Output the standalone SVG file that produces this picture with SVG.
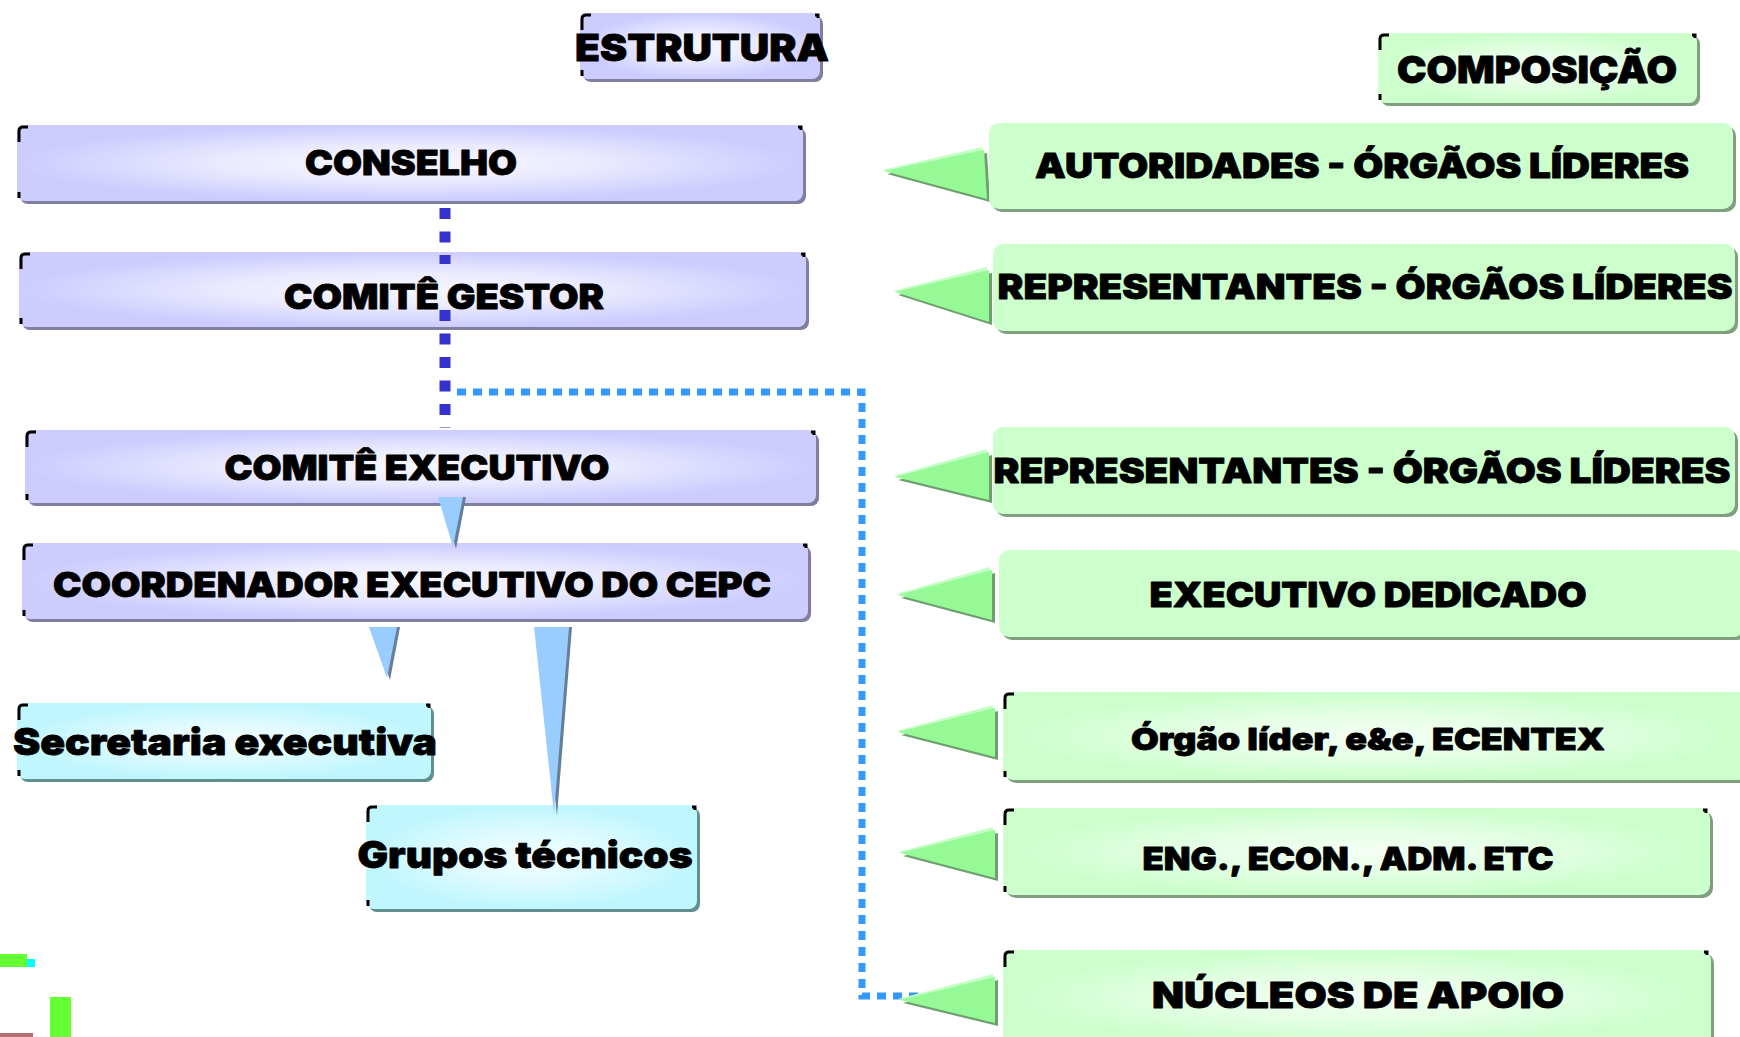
<svg xmlns="http://www.w3.org/2000/svg" width="1740" height="1037" viewBox="0 0 1740 1037">
<defs>
<radialGradient id="gLav" cx="0.5" cy="0.5" r="0.5">
<stop offset="0" stop-color="#f7f7ff"/><stop offset="0.45" stop-color="#ebebff"/><stop offset="1" stop-color="#ccccff"/>
</radialGradient>
<radialGradient id="gGrn" cx="0.5" cy="0.5" r="0.5">
<stop offset="0" stop-color="#f4fff4"/><stop offset="0.45" stop-color="#e6ffe6"/><stop offset="1" stop-color="#ccffcc"/>
</radialGradient>
<radialGradient id="gCyn" cx="0.5" cy="0.5" r="0.5">
<stop offset="0" stop-color="#f4feff"/><stop offset="0.45" stop-color="#e0fbff"/><stop offset="1" stop-color="#bff6ff"/>
</radialGradient>
<style>
.t{font-family:Inter,Lato,Roboto,"Liberation Sans",sans-serif;font-weight:900;fill:#000;stroke:#000;stroke-width:0.8;stroke-linejoin:round;text-anchor:middle}
.lav{fill:url(#gLav)}
.grn{fill:url(#gGrn)}
.flat{fill:#ccffcc}
.cyn{fill:url(#gCyn)}
.shL{fill:#7f7f9f}
.shG{fill:#7f9f7f}
.shC{fill:#5f8f8f}
.cm{fill:none;stroke:#000;stroke-width:3;stroke-linecap:butt}
.tri{fill:#95fa95}
.triH{fill:#c4ffc4}
.triS{fill:#6f9f6f}
.btri{fill:#99ccff}
.btriS{fill:#667f99}
</style>
</defs>
<rect width="1740" height="1037" fill="#fff"/>

<g id="estrutura">
<rect class="shL" x="583" y="16" width="240" height="66" rx="8"/>
<rect class="lav" x="580" y="13" width="240" height="66" rx="8"/>
<path class="cm" d="M582,30 V19 Q582,15 586,15 H591 M815,15 h3 v3 M582,70 v6"/>
<text class="t" x="702" y="61" font-size="37" textLength="254" lengthAdjust="spacingAndGlyphs">ESTRUTURA</text>
</g>

<g id="conselho">
<rect class="shL" x="20" y="128" width="786" height="76" rx="8"/>
<rect class="lav" x="17" y="125" width="786" height="76" rx="8"/>
<path class="cm" d="M19,142 V131 Q19,127 23,127 H28 M798,127 h3 v3 M19,192 v6"/>
<text class="t" x="411" y="175" font-size="34" textLength="212" lengthAdjust="spacingAndGlyphs">CONSELHO</text>
</g>

<g id="comite-gestor">
<rect class="shL" x="22" y="255" width="787" height="75" rx="8"/>
<rect class="lav" x="19" y="252" width="787" height="75" rx="8"/>
<path class="cm" d="M21,269 V258 Q21,254 25,254 H30 M801,254 h3 v3 M21,318 v6"/>
<text class="t" x="444" y="309" font-size="34" textLength="320" lengthAdjust="spacingAndGlyphs">COMITÊ GESTOR</text>
</g>

<g id="comite-executivo">
<rect class="shL" x="28" y="433" width="791" height="73" rx="8"/>
<rect class="lav" x="25" y="430" width="791" height="73" rx="8"/>
<path class="cm" d="M27,447 V436 Q27,432 31,432 H36 M811,432 h3 v3 M27,494 v6"/>
<text class="t" x="417" y="480" font-size="34" textLength="385" lengthAdjust="spacingAndGlyphs">COMITÊ EXECUTIVO</text>
</g>

<g id="coordenador">
<rect class="shL" x="25" y="546" width="786" height="76" rx="8"/>
<rect class="lav" x="22" y="543" width="786" height="76" rx="8"/>
<path class="cm" d="M24,560 V549 Q24,545 28,545 H33 M803,545 h3 v3 M24,610 v6"/>
<text class="t" x="412" y="597" font-size="34" textLength="718" lengthAdjust="spacingAndGlyphs">COORDENADOR EXECUTIVO DO CEPC</text>
</g>

<g id="secretaria">
<rect class="shC" x="20" y="706" width="414" height="76" rx="8"/>
<rect class="cyn" x="17" y="703" width="414" height="76" rx="8"/>
<path class="cm" d="M19,720 V709 Q19,705 23,705 H28 M426,705 h3 v3 M19,770 v6"/>
<text class="t" x="225" y="755" font-size="37" textLength="424" lengthAdjust="spacingAndGlyphs">Secretaria executiva</text>
</g>

<g id="grupos">
<rect class="shC" x="369" y="808" width="331" height="104" rx="8"/>
<rect class="cyn" x="366" y="805" width="331" height="104" rx="8"/>
<path class="cm" d="M368,822 V811 Q368,807 372,807 H377 M692,807 h3 v3 M368,900 v6"/>
<text class="t" x="525" y="868" font-size="37" textLength="335" lengthAdjust="spacingAndGlyphs">Grupos técnicos</text>
</g>

<g id="connectors">
<line x1="445" y1="208" x2="445" y2="264" stroke="#3333cc" stroke-width="11" stroke-dasharray="11 12.5"/>
<line x1="445" y1="310" x2="445" y2="428" stroke="#3333cc" stroke-width="11" stroke-dasharray="11 12.5"/>
<polyline points="457,392 862,392 862,996 1002,996" fill="none" stroke="#3399ff" stroke-width="7" stroke-dasharray="9 7"/>
<polygon class="btriS" points="441,497 466,497 456,549"/>
<polygon class="btri" points="438,497 463,497 453,547"/>
<polygon class="btriS" points="372,627 400,627 390,680"/>
<polygon class="btri" points="369,627 397,627 387,678"/>
<polygon class="btriS" points="537,627 572,627 557,816"/>
<polygon class="btri" points="534,627 569,627 554,814"/>
</g>

<g id="composicao">
<rect class="shG" x="1381" y="36" width="319" height="70" rx="8"/>
<rect class="grn" x="1378" y="33" width="319" height="70" rx="8"/>
<path class="cm" d="M1380,50 V39 Q1380,35 1384,35 H1389 M1692,35 h3 v3 M1380,94 v6"/>
<text class="t" x="1537" y="83" font-size="37" textLength="280" lengthAdjust="spacingAndGlyphs">COMPOSIÇÃO</text>
</g>

<g id="autoridades">
<polygon class="triS" points="887,174 987,153 990,202"/>
<polygon class="triH" points="882,170 982,147 985,197"/>
<polygon class="tri" points="884,171 984,150 987,199"/>
<rect class="shG" x="992" y="126" width="744" height="86" rx="10"/>
<rect class="flat" x="989" y="123" width="744" height="86" rx="10"/>
<text class="t" x="1362" y="178" font-size="34" textLength="654" lengthAdjust="spacingAndGlyphs">AUTORIDADES - ÓRGÃOS LÍDERES</text>
</g>

<g id="representantes-1">
<polygon class="triS" points="898,295 992,273 992,325"/>
<polygon class="triH" points="893,291 987,267 987,319"/>
<polygon class="tri" points="895,292 989,270 989,322"/>
<rect class="shG" x="996" y="247" width="742" height="87" rx="10"/>
<rect class="flat" x="993" y="244" width="742" height="87" rx="10"/>
<text class="t" x="1365" y="299" font-size="34" textLength="735" lengthAdjust="spacingAndGlyphs">REPRESENTANTES - ÓRGÃOS LÍDERES</text>
</g>

<g id="representantes-2">
<polygon class="triS" points="898,480 992,455 992,503"/>
<polygon class="triH" points="893,476 987,449 987,497"/>
<polygon class="tri" points="895,477 989,452 989,500"/>
<rect class="shG" x="996" y="430" width="742" height="87" rx="10"/>
<rect class="flat" x="993" y="427" width="742" height="87" rx="10"/>
<text class="t" x="1362" y="483" font-size="34" textLength="737" lengthAdjust="spacingAndGlyphs">REPRESENTANTES - ÓRGÃOS LÍDERES</text>
</g>

<g id="executivo-dedicado">
<polygon class="triS" points="901,598 995,573 995,623"/>
<polygon class="triH" points="896,594 990,567 990,617"/>
<polygon class="tri" points="898,595 992,570 992,620"/>
<rect class="shG" x="1002" y="553" width="745" height="87" rx="10"/>
<rect class="flat" x="999" y="550" width="745" height="87" rx="10"/>
<text class="t" x="1368" y="607" font-size="34" textLength="437" lengthAdjust="spacingAndGlyphs">EXECUTIVO DEDICADO</text>
</g>

<g id="orgao-lider">
<polygon class="triS" points="901,735 998,711 998,760"/>
<polygon class="triH" points="896,731 993,705 993,754"/>
<polygon class="tri" points="898,732 995,708 995,757"/>
<rect class="shG" x="1006" y="695" width="745" height="88" rx="10"/>
<rect class="grn" x="1003" y="692" width="745" height="88" rx="10"/>
<path class="cm" d="M1005,709 V698 Q1005,694 1009,694 H1014 M1005,771 v6"/>
<text class="t" x="1368" y="750" font-size="30" textLength="474" lengthAdjust="spacingAndGlyphs">Órgão líder, e&amp;e, ECENTEX</text>
</g>

<g id="eng-econ">
<polygon class="triS" points="903,856 998,833 998,881"/>
<polygon class="triH" points="898,852 993,827 993,875"/>
<polygon class="tri" points="900,853 995,830 995,878"/>
<rect class="shG" x="1006" y="811" width="707" height="87" rx="10"/>
<rect class="grn" x="1003" y="808" width="707" height="87" rx="10"/>
<path class="cm" d="M1005,825 V814 Q1005,810 1009,810 H1014 M1703,810 h3 v3 M1005,886 v6"/>
<text class="t" x="1348" y="870" font-size="32" textLength="411" lengthAdjust="spacingAndGlyphs">ENG., ECON., ADM. ETC</text>
</g>

<g id="nucleos">
<polygon class="triS" points="903,1003 998,980 998,1026"/>
<polygon class="triH" points="898,999 993,974 993,1020"/>
<polygon class="tri" points="900,1000 995,977 995,1023"/>
<rect class="shG" x="1006" y="953" width="708" height="95" rx="10"/>
<rect class="grn" x="1003" y="950" width="708" height="95" rx="10"/>
<path class="cm" d="M1005,967 V956 Q1005,952 1009,952 H1014 M1704,952 h3 v3"/>
<text class="t" x="1358" y="1008" font-size="36" textLength="412" lengthAdjust="spacingAndGlyphs">NÚCLEOS DE APOIO</text>
</g>

<g id="fragments">
<rect x="0" y="954" width="27" height="13" fill="#66ff33"/>
<rect x="27" y="959" width="8" height="8" fill="#00ffff"/>
<rect x="50" y="997" width="21" height="40" fill="#66ff33"/>
<rect x="0" y="1033" width="33" height="4" fill="#b07070"/>
</g>
</svg>
